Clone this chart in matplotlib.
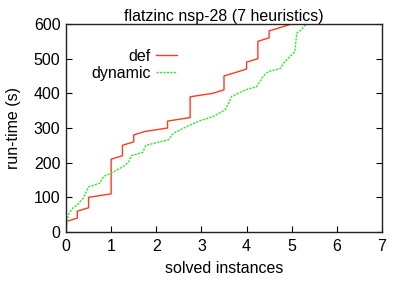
import matplotlib
matplotlib.use("Agg")
import matplotlib.pyplot as plt

plt.rcParams['font.family'] = ['Liberation Sans', 'DejaVu Sans']

title = "flatzinc nsp-28 (7 heuristics)"
x_label = "solved instances"
y_label = "run-time (s)"

def_x = [0, 0, 0.25, 0.25, 0.5, 0.5, 1.0, 1.0, 1.25, 1.25, 1.5, 1.5, 1.75, 2.25, 2.25,
         2.75, 2.75, 3.25, 3.5, 3.5, 4.0, 4.0, 4.25, 4.25, 4.5, 4.5, 5.0]
def_y = [0, 30, 40, 60, 70, 100, 110, 210, 220, 250, 260, 280, 290, 300, 320,
         330, 390, 400, 410, 450, 470, 490, 500, 550, 560, 580, 600]

dyn_x = [0, 0.05, 0.15, 0.25, 0.38, 0.5, 0.75, 0.83, 1.0, 1.27, 1.38, 1.45, 1.7, 1.77,
         2.27, 2.38, 2.75, 2.97, 3.26, 3.52, 3.6, 3.66, 3.97, 4.22, 4.37, 4.48, 4.74,
         4.82, 4.96, 5.07, 5.11, 5.2, 5.32]
dyn_y = [0, 50, 69, 78, 98, 130, 141, 160, 170, 189, 201, 220, 230, 250,
         266, 285, 309, 321, 333, 352, 371, 390, 410, 419, 450, 463, 471,
         487, 506, 520, 573, 582, 600]

FS = 11.5
fig = plt.figure(figsize=(4.04, 2.82), dpi=100)
ax = fig.add_axes([66/404, 1-232/282, 316/404, 208/282])

ax.plot(def_x, def_y, color='#ff3b1f', lw=1.0, label='def')
ax.plot(dyn_x, dyn_y, color='#22ee22', lw=1.0, linestyle=(0, (1.5, 1)), label='dynamic')

ax.set_xlim(0, 7)
ax.set_ylim(0, 600)
ax.set_xticks(range(0, 8))
ax.set_yticks(range(0, 601, 100))
ax.tick_params(direction='in', labelsize=FS, length=4, width=0.8, right=True, top=False)
ax.tick_params(axis='x', pad=5)
ax.tick_params(axis='y', pad=4)
for s in ax.spines.values():
    s.set_linewidth(1.0)
    s.set_color('#222222')

ax.set_title(title, fontsize=FS, pad=1.0)
ax.set_xlabel(x_label, fontsize=FS, labelpad=5)
ax.set_ylabel(y_label, fontsize=FS, labelpad=9)

leg = ax.legend(loc='upper right', bbox_to_anchor=(0.352, 0.88), frameon=False,
                markerfirst=False, fontsize=FS, handlelength=1.3, handletextpad=0.35,
                labelspacing=0.12, borderpad=0, borderaxespad=0)
for t in leg.get_texts():
    t.set_ha('right')

fig.savefig("out.png", dpi=100)
